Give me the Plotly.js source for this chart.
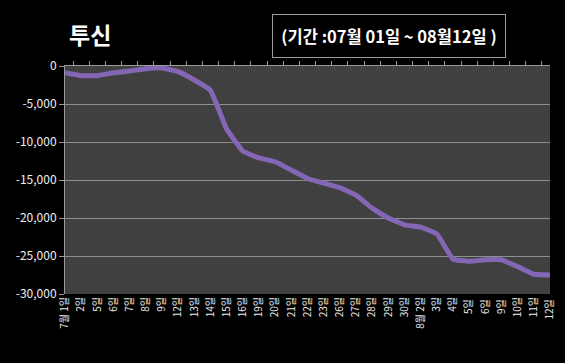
<!DOCTYPE html>
<html>
<head>
<meta charset="utf-8">
<script src="https://cdn.plot.ly/plotly-3.0.1.min.js"></script>
<style>
html,body{margin:0;padding:0;background:#000;}
#chart{width:565px;height:363px;}
</style>
</head>
<body>
<div id="chart"></div>
<script>
const categories = ['7월 1일','2일','5일','6일','7일','8일','9일','12일','13일','14일','15일','16일','19일','20일','21일','22일','23일','26일','27일','28일','29일','30일','8월 2일','3일','4일','5일 ','6일 ','9일 ','10일','11일','12일 '];
const values = [-880,-1270,-1270,-880,-660,-350,-260,-750,-1840,-3200,-8300,-11200,-12100,-12600,-13700,-14800,-15400,-16000,-17000,-18700,-20000,-20900,-21200,-22100,-25400,-25700,-25500,-25500,-26400,-27400,-27500];
const yTickVals = [0,-5000,-10000,-15000,-20000,-25000,-30000];
const yTickText = ['0','-5,000','-10,000','-15,000','-20,000','-25,000','-30,000'];
const chartTitle = '투신';
const periodText = '(기간 :07월 01일 ~ 08월12일 )';

const fontFam = '"Noto Sans CJK KR", "Noto Sans", sans-serif';

const traces = [
  {
    x: categories, y: values, type: 'scatter', mode: 'lines',
    line: {color: '#8466b4', width: 5, shape: 'spline', smoothing: 0.3},
    xaxis: 'x', yaxis: 'y', hoverinfo: 'skip'
  },
  {
    x: categories, y: values, type: 'scatter', mode: 'lines',
    line: {color: 'rgba(0,0,0,0)', width: 0},
    xaxis: 'x2', yaxis: 'y', hoverinfo: 'skip', showlegend: false
  }
];

const layout = {
  width: 565, height: 363,
  paper_bgcolor: '#000000',
  plot_bgcolor: '#404040',
  showlegend: false,
  margin: {l: 65, r: 15, t: 66, b: 69},
  xaxis: {
    type: 'category',
    tickangle: -90,
    tickfont: {family: fontFam, size: 10, color: '#e8e8e8'},
    showgrid: false, zeroline: false, showline: false,
    ticks: '', ticklen: 0,
    fixedrange: true
  },
  xaxis2: {
    type: 'category', overlaying: 'x', side: 'top', anchor: 'y',
    showticklabels: false, showgrid: false, zeroline: false,
    showline: true, linecolor: '#9a9a9a', linewidth: 1,
    ticks: 'outside', ticklen: 4, tickcolor: '#9a9a9a', tickwidth: 1,
    tickson: 'boundaries',
    matches: 'x', fixedrange: true
  },
  yaxis: {
    range: [-30000, 0],
    tickvals: yTickVals, ticktext: yTickText,
    tickfont: {family: fontFam, size: 12, color: '#f0f0f0'},
    showgrid: true, gridcolor: '#8f8f8f', gridwidth: 1,
    zeroline: false,
    showline: true, linecolor: '#9a9a9a', linewidth: 1,
    ticks: 'outside', ticklen: 5, tickcolor: '#9a9a9a',
    fixedrange: true
  },
  annotations: [
    {
      text: '<b>' + chartTitle + '</b>',
      xref: 'paper', yref: 'paper', x: 0.005, y: 1.14,
      xanchor: 'left', yanchor: 'middle', showarrow: false,
      font: {family: fontFam, size: 23, color: '#ffffff'}
    },
    {
      text: '<b>' + periodText + '</b>',
      xref: 'paper', yref: 'paper', x: 0.668, y: 1.1316,
      xanchor: 'center', yanchor: 'middle', showarrow: false,
      width: 230, height: 40,
      bordercolor: '#9a9a9a', borderwidth: 1, borderpad: 1,
      bgcolor: '#000000',
      font: {family: fontFam, size: 16.5, color: '#ffffff'}
    }
  ]
};

Plotly.newPlot('chart', traces, layout, {displayModeBar: false, staticPlot: true});
</script>
</body>
</html>
